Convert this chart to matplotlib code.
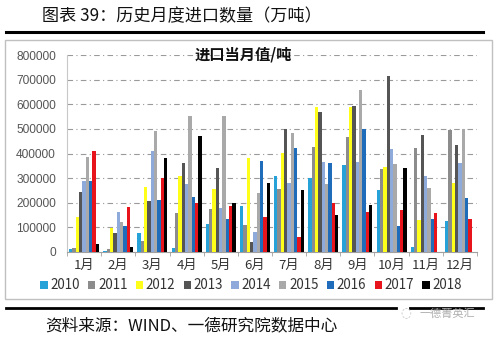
import numpy as np
import matplotlib
matplotlib.use("Agg")
from matplotlib import pyplot as plt
from matplotlib.lines import Line2D
from matplotlib.patches import Rectangle

# 月份与年份
months = ["1月", "2月", "3月", "4月", "5月", "6月", "7月", "8月", "9月", "10月", "11月", "12月"]
years = ["2010", "2011", "2012", "2013", "2014", "2015", "2016", "2017", "2018"]

# 各年进口当月值（吨）
v2010 = [12000, 5000, 76000, 16000, 114000, 187000, 309000, 300000, 352000, 252000, 22000, 126000]
v2011 = [16000, 12000, 45000, 157000, 173000, 110000, 256000, 425000, 469000, 337000, 421000, 496000]
v2012 = [144000, 96000, 265000, 309000, 255000, 381000, 404000, 590000, 590000, 347000, 130000, 279000]
v2013 = [243000, 79000, 207000, 363000, 340000, 39000, 500000, 568000, 593000, 713000, 476000, 435000]
v2014 = [289000, 164000, 410000, 275000, 178000, 81000, 279000, 367000, 367000, 419000, 309000, 361000]
v2015 = [385000, 123000, 490000, 553000, 553000, 238000, 485000, 276000, 658000, 356000, 259000, 500000]
v2016 = [289000, 107000, 211000, 225000, 134000, 370000, 421000, 360000, 500000, 106000, 134000, 218000]
v2017 = [412000, 184000, 300000, 200000, 187000, 141000, 60000, 198000, 161000, 171000, 160000, 133000]
v2018 = [31000, 22000, 381000, 473000, 200000, 282000, 250000, 150000, 191000, 340000, np.nan, np.nan]
series = [v2010, v2011, v2012, v2013, v2014, v2015, v2016, v2017, v2018]

colors = ["#27a2d8", "#8c8c8c", "#ffff1a", "#555555", "#8eaadb",
          "#a9a9a9", "#1f6cba", "#e8141c", "#000000"]

plt.rcParams['font.family'] = ['Noto Sans CJK SC', 'DejaVu Sans']

fig = plt.figure(figsize=(5.0, 3.39), dpi=100)
W, H = 500.0, 339.0

# 外框和分隔线
fig.patches.append(Rectangle((5 / W, 1 - 299 / H), 487 / W, 259 / H, transform=fig.transFigure,
                             fill=False, edgecolor="#c0c0c0", lw=1.0))
fig.add_artist(Line2D([6 / W, 483 / W], [1 - 32 / H, 1 - 32 / H], color="black", lw=2.2))
fig.add_artist(Line2D([6 / W, 396 / W], [1 - 308 / H, 1 - 308 / H], color="black", lw=2.0))
fig.add_artist(Line2D([410 / W, 483 / W], [1 - 308 / H, 1 - 308 / H], color="black", lw=2.0))

fig.text(42 / W, 1 - 16 / H, "图表 39：历史月度进口数量（万吨）", fontsize=12.3,
         va="center", ha="left", color="#111111")
fig.text(45 / W, 1 - 326 / H, "资料来源：WIND、一德研究院数据中心", fontsize=12,
         va="center", ha="left", color="#111111")
fig.text(420 / W, 1 - 314 / H, "一德菁英汇", fontsize=8, va="center", ha="left",
         color="#b0b0b0")
fig.text(400 / W, 1 - 314 / H, "◌", fontsize=9, va="center", ha="left",
         color="#c0c0c0", family=["DejaVu Sans"])

ax = fig.add_axes([67 / W, 1 - 252 / H, 410 / W, 197 / H])

x = np.arange(len(months))
n = len(series)
bw = 0.098
for i, (yr, vals) in enumerate(zip(years, series)):
    ax.bar(x - (n - 1) / 2 * bw + i * bw, vals, width=bw, color=colors[i], label=yr, zorder=3)

ax.set_xlim(-0.5, len(months) - 0.5)
ax.set_ylim(0, 800000)
ax.set_yticks(np.arange(0, 800001, 100000))
ax.set_yticklabels([str(v) for v in range(0, 800001, 100000)],
                   family=["Liberation Sans"], fontsize=8.6, color="#555555")
ax.set_xticks(x)
ax.set_xticklabels(months, fontsize=9.5, color="#333333")
ax.set_xticks(np.arange(-0.5, len(months), 1), minor=True)
ax.tick_params(axis="x", which="major", length=0, pad=5)
ax.tick_params(axis="x", which="minor", length=3, color="#a0a0a0")
ax.tick_params(axis="y", length=0, pad=8)

ax.yaxis.grid(True, color="#9a9a9a", lw=0.8, dashes=(5, 3, 1, 3), zorder=0)
for s in ["top", "right"]:
    ax.spines[s].set_visible(False)
ax.spines["left"].set_color("#c8c8c8")
ax.spines["bottom"].set_color("#a0a0a0")

ax.text(0.43, 1.0, "进口当月值/吨", transform=ax.transAxes, fontsize=11,
        fontweight="bold", ha="center", va="center", color="#111111", zorder=5)

leg = ax.legend(loc="center", bbox_to_anchor=(0.449, -0.17), ncol=9, frameon=False,
                fontsize=9.6, handlelength=0.55, handleheight=0.55, handletextpad=0.2,
                columnspacing=0.62, borderaxespad=0)
for t in leg.get_texts():
    t.set_color("#333333")

fig.savefig("out.png", dpi=100)
